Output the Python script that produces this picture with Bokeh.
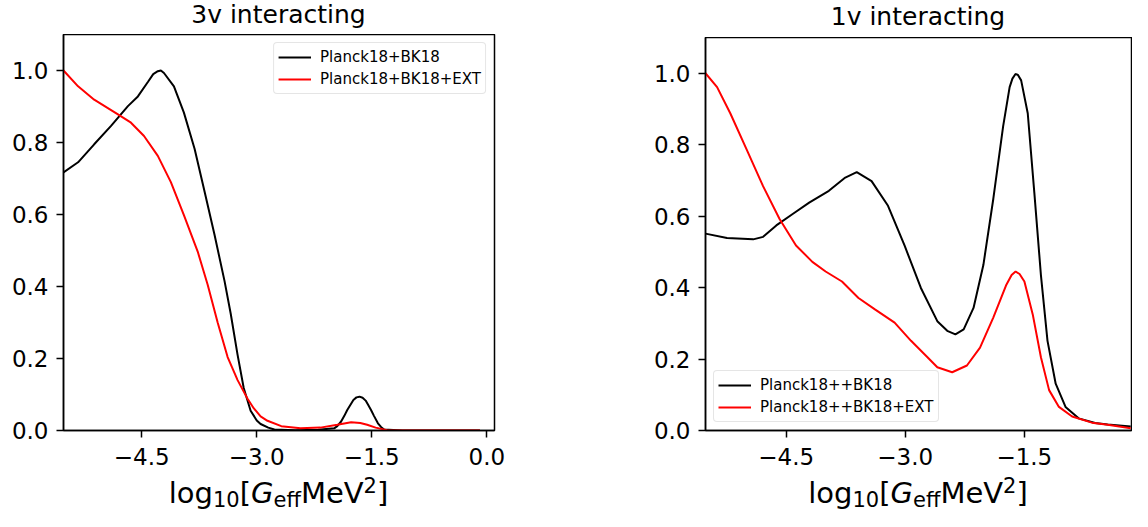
from bokeh.plotting import figure
from bokeh.layouts import row, column
from bokeh.models import (Range1d, FixedTicker, Legend, LegendItem, Div,
                          CustomJSTickFormatter)
from bokeh.embed import file_html
from bokeh.resources import INLINE

FONT = "DejaVu Sans"

# ---------------- data ----------------
titles = ["3v interacting", "1v interacting"]

left_black_x = [-5.52, -5.33, -5.12, -4.90, -4.68, -4.55, -4.42, -4.35, -4.29, -4.25,
                -4.21, -4.08, -3.95, -3.81, -3.68, -3.55, -3.42, -3.34, -3.25, -3.17,
                -3.08, -3.00, -2.95, -2.85, -2.77, -2.50, -2.20, -1.99, -1.95, -1.90,
                -1.86, -1.82, -1.74, -1.70, -1.66, -1.62, -1.58, -1.55, -1.51, -1.47,
                -1.42, -1.38, -1.34, -1.10, -0.60, -0.09]
left_black_y = [0.717, 0.745, 0.795, 0.846, 0.901, 0.928, 0.968, 0.990, 0.998, 1.000,
                0.993, 0.956, 0.883, 0.782, 0.663, 0.543, 0.415, 0.325, 0.210, 0.118,
                0.055, 0.028, 0.018, 0.008, 0.003, 0.001, 0.002, 0.006, 0.012, 0.025,
                0.040, 0.057, 0.085, 0.092, 0.094, 0.091, 0.083, 0.072, 0.057, 0.040,
                0.020, 0.010, 0.003, 0.000, 0.000, 0.000]

left_red_x = [-5.52, -5.33, -5.12, -4.81, -4.64, -4.47, -4.29, -4.12, -3.95, -3.77,
              -3.64, -3.51, -3.38, -3.25, -3.17, -3.12, -3.04, -2.95, -2.86, -2.68,
              -2.43, -2.17, -1.95, -1.77, -1.65, -1.56, -1.45, -1.30, -1.00, -0.50,
              -0.09]
left_red_y = [1.000, 0.956, 0.919, 0.878, 0.855, 0.818, 0.763, 0.690, 0.598, 0.497,
              0.405, 0.300, 0.204, 0.140, 0.108, 0.088, 0.062, 0.039, 0.027, 0.012,
              0.006, 0.008, 0.016, 0.023, 0.021, 0.016, 0.008, 0.001, 0.000, 0.000,
              0.000]

right_black_x = [-5.516, -5.245, -4.915, -4.790, -4.624, -4.418, -4.210, -3.962, -3.755,
                 -3.611, -3.424, -3.217, -3.009, -2.803, -2.596, -2.471, -2.368, -2.264,
                 -2.140, -2.016, -1.891, -1.767, -1.685, -1.650, -1.611, -1.580, -1.540,
                 -1.457, -1.374, -1.291, -1.208, -1.105, -0.981, -0.816, -0.608, -0.450,
                 -0.160]
right_black_y = [0.551, 0.539, 0.535, 0.542, 0.574, 0.606, 0.638, 0.671, 0.708,
                 0.723, 0.698, 0.629, 0.518, 0.399, 0.306, 0.279, 0.269, 0.283,
                 0.343, 0.463, 0.648, 0.851, 0.961, 0.985, 0.998, 0.995, 0.980,
                 0.888, 0.666, 0.435, 0.251, 0.131, 0.066, 0.034, 0.021, 0.017,
                 0.011]

right_red_x = [-5.516, -5.370, -5.204, -4.997, -4.791, -4.583, -4.376, -4.170, -4.003,
               -3.797, -3.589, -3.382, -3.134, -2.927, -2.720, -2.596, -2.409, -2.223,
               -2.058, -1.891, -1.726, -1.660, -1.610, -1.560, -1.499, -1.394, -1.291,
               -1.188, -1.064, -0.898, -0.649, -0.450, -0.160]
right_red_y = [1.000, 0.961, 0.888, 0.786, 0.684, 0.592, 0.518, 0.472, 0.445,
               0.417, 0.371, 0.339, 0.302, 0.251, 0.205, 0.177, 0.163, 0.182,
               0.232, 0.316, 0.408, 0.435, 0.445, 0.438, 0.417, 0.325, 0.205,
               0.113, 0.066, 0.039, 0.022, 0.016, 0.006]

left_labels = ["Planck18+BK18", "Planck18+BK18+EXT"]
right_labels = ["Planck18++BK18", "Planck18++BK18+EXT"]

x_ticks_left = [-4.5, -3.0, -1.5, 0.0]
x_ticks_right = [-4.5, -3.0, -1.5]
y_ticks = [0.0, 0.2, 0.4, 0.6, 0.8, 1.0]

xlabel_html = ("log<span style=\"font-size:21px;vertical-align:-4px;line-height:0\">10</span>"
               "[<i>G</i><span style=\"font-size:21px;vertical-align:-4px;line-height:0\">eff</span>"
               "MeV<span style=\"font-size:21px;vertical-align:10px;line-height:0\">2</span>]")

fmt = CustomJSTickFormatter(code="return tick.toFixed(1).replace('-', '\u2212');")


def text_div(html, width, height, bl, fw, size, lh, pad_top):
    inner = (f"<div style=\"margin-left:{bl}px;width:{fw}px;padding-top:{pad_top}px;"
             f"text-align:center;font-family:'{FONT}';font-size:{size}px;"
             f"line-height:{lh}px;color:#000;white-space:nowrap;\">{html}</div>")
    return Div(text=inner, width=width, height=height, margin=(0, 0, 0, 0))


def make_panel(title, xr_vals, xticks, series, labels, legend_loc, width, bl, br,
               top_h, main_h, title_pad):
    xr = Range1d(*xr_vals)
    fw = width - bl - br

    t = text_div(title, width, top_h, bl, fw, 25, 29, title_pad)

    p = figure(width=width, height=main_h, output_backend="svg", toolbar_location=None,
               x_range=xr, y_range=Range1d(0, 1.1),
               min_border_left=bl, min_border_right=br, min_border_top=0,
               min_border_bottom=46)
    p.xgrid.visible = False
    p.ygrid.visible = False
    p.outline_line_color = "black"
    p.outline_line_width = 1.5
    for ax, ticks in ((p.xaxis, xticks), (p.yaxis, y_ticks)):
        ax.ticker = FixedTicker(ticks=ticks)
        ax.formatter = fmt
        ax.major_label_text_font = FONT
        ax.major_label_text_font_size = "23px"
        ax.major_label_text_color = "black"
        ax.axis_line_color = "black"
        ax.axis_line_width = 1.5
        ax.major_tick_line_color = "black"
        ax.major_tick_line_width = 1.5
        ax.major_tick_out = 7
        ax.major_tick_in = 0
        ax.minor_tick_line_color = None
    p.xaxis.major_label_standoff = 10
    p.yaxis.major_label_standoff = 8

    items = []
    for (xs, ys, col), lab in zip(series, labels):
        r = p.line(xs, ys, line_color=col, line_width=2)
        items.append(LegendItem(label=lab, renderers=[r]))
    leg = Legend(items=items, location=legend_loc)
    leg.label_text_font = FONT
    leg.label_text_font_size = "15px"
    leg.label_text_color = "black"
    leg.glyph_width = 33
    leg.glyph_height = 20
    leg.label_height = 20
    leg.label_standoff = 9
    leg.spacing = 2
    leg.padding = 4
    leg.margin = 8
    leg.border_line_color = "#cccccc"
    leg.border_line_width = 1.5
    leg.background_fill_color = "white"
    leg.background_fill_alpha = 0.8
    try:
        leg.border_radius = 4
    except Exception:
        pass
    p.add_layout(leg)

    b = text_div(xlabel_html, width, 35, bl, fw, 29, 34, 0)
    return column(t, p, b, spacing=0)


left = make_panel(titles[0], (-5.52, 0.10), x_ticks_left,
                  [(left_black_x, left_black_y, "black"), (left_red_x, left_red_y, "red")],
                  left_labels, "top_right", 560, 63, 66, 34, 442, 0)
right = make_panel(titles[1], (-5.516, -0.15), x_ticks_right,
                   [(right_black_x, right_black_y, "black"),
                    (right_red_x, right_red_y, "red")],
                   right_labels, "bottom_left", 572, 145, 1, 37, 439, 2)

layout = row(left, right, spacing=0)
open("out.html", "w").write(file_html(layout, INLINE))
